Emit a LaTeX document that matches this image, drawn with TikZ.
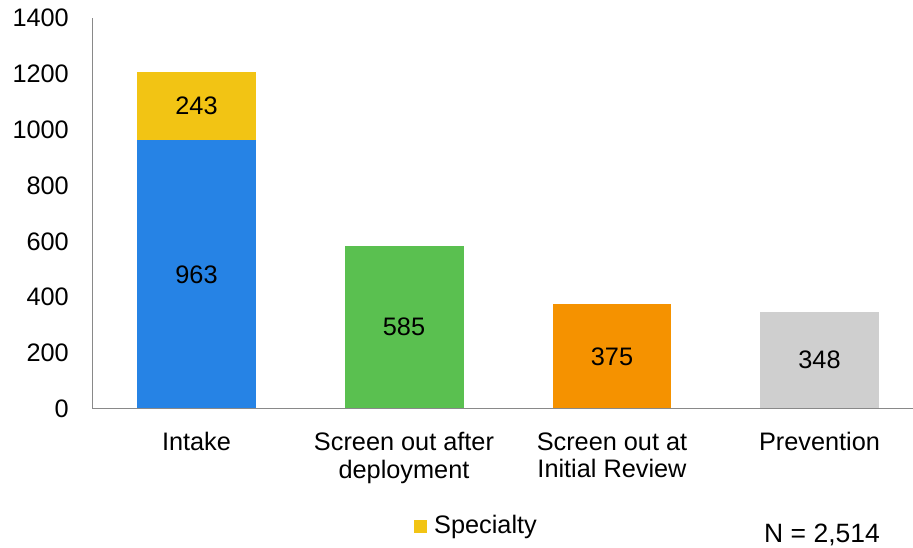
\documentclass[tikz,border=0pt]{standalone}
\usepackage{fontspec}
\setmainfont{Liberation Sans}
\definecolor{barblue}{RGB}{38,131,229}
\definecolor{baryellow}{RGB}{242,196,20}
\definecolor{bargreen}{RGB}{90,192,80}
\definecolor{barorange}{RGB}{245,146,0}
\definecolor{bargray}{RGB}{207,207,207}
\definecolor{axisgray}{RGB}{137,137,137}
\newcommand{\Yv}[1]{408.7-#1*0.27893}
\tikzset{
  lbl/.style={inner sep=0pt, font=\fontsize{25.3}{27.5}\selectfont},
  ticklbl/.style={lbl, anchor=east},
  catlbl/.style={lbl, anchor=north, align=center},
  vallbl/.style={lbl, anchor=center},
  axisline/.style={draw=axisgray, line width=1.5pt}
}
\begin{document}
\begin{tikzpicture}[x=1pt,y=-1pt]
\useasboundingbox (0,0) rectangle (913,547);
% bars
\fill[barblue] (137,{\Yv{0}}) rectangle (256,{\Yv{963}});
\fill[baryellow] (137,{\Yv{963}}) rectangle (256,{\Yv{1206}});
\fill[bargreen] (345,{\Yv{0}}) rectangle (463.5,{\Yv{585}});
\fill[barorange] (553,{\Yv{0}}) rectangle (671,{\Yv{375}});
\fill[bargray] (760,{\Yv{0}}) rectangle (879,{\Yv{348}});
% axes
\coordinate (ytop) at (92.5,{\Yv{1400}});
\coordinate (orig) at (92.5,{\Yv{0}});
\coordinate (xend) at (913,{\Yv{0}});
\draw[axisline] (ytop) -- (orig) -- (xend);
% tick labels
\foreach \v in {0,200,...,1400}
  \node[ticklbl] (t\v) at (69,{\Yv{\v}}) {\v};
% value labels
\node[vallbl] (v1a) at (196.5,{\Yv{481.5}}) {963};
\node[vallbl] (v1b) at (196.5,{\Yv{1084.5}}) {243};
\node[vallbl] (v2) at (404,{\Yv{292.5}}) {585};
\node[vallbl] (v3) at (612,{\Yv{187.5}}) {375};
\node[vallbl] (v4) at (819.5,{\Yv{174}}) {348};
% category labels
\node[catlbl] (c1) at (196.5,432.3) {Intake};
\node[catlbl] (c2) at (404,432.3) {Screen out after\\deployment};
\node[catlbl] (c3) at (612,432.3) {Screen out at\\Initial Review};
\node[catlbl] (c4) at (819.5,432.3) {Prevention};
% legend
\fill[baryellow] (414,520) rectangle (427.3,532.5);
\node[lbl, anchor=base west] (leg) at (434,533.3) {Specialty};
\node[inner sep=0pt, anchor=base west, font=\fontsize{26.5}{28}\selectfont] (n) at (764,542.5) {N = 2,514};
\end{tikzpicture}
\end{document}
